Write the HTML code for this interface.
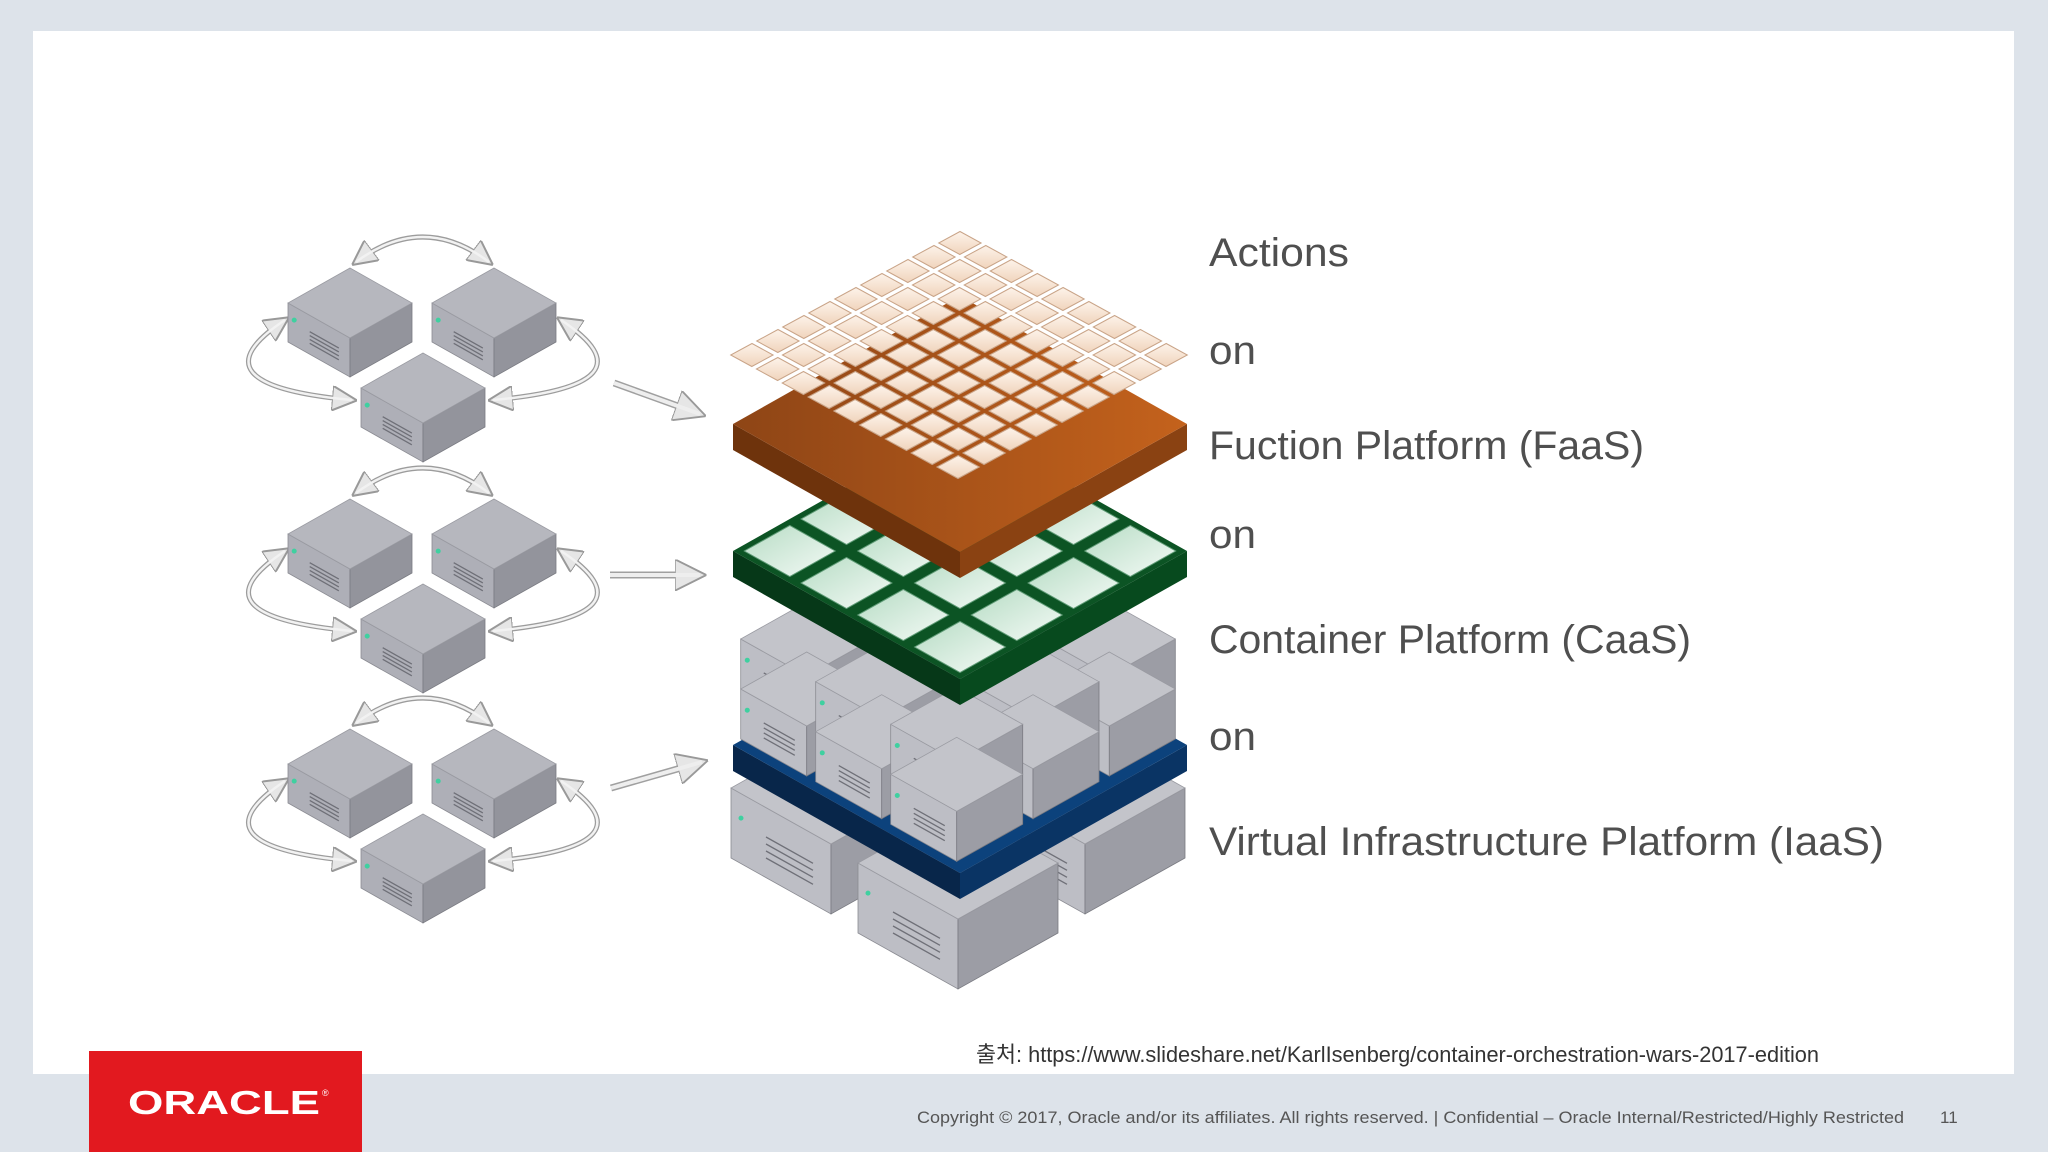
<!DOCTYPE html>
<html><head><meta charset="utf-8">
<style>
html,body{margin:0;padding:0;background:#dde3ea;}
svg{display:block;}
</style></head>
<body>
<svg id="s" width="2048" height="1152" viewBox="0 0 2048 1152" xmlns="http://www.w3.org/2000/svg">
<defs>
<marker id="ah" viewBox="0 0 10 10" refX="8" refY="5" markerWidth="5" markerHeight="5" orient="auto-start-reverse" markerUnits="strokeWidth">
<path d="M0,0 L10,5 L0,10 Z" fill="#e6e6e6" stroke="#999" stroke-width="0.8"/>
</marker>
<marker id="ah2" viewBox="0 0 10 10" refX="8" refY="5" markerWidth="4.5" markerHeight="4.5" orient="auto" markerUnits="strokeWidth">
<path d="M0,0 L10,5 L0,10 Z" fill="#e6e6e6" stroke="#999" stroke-width="0.6"/>
</marker>
<linearGradient id="tileA" x1="0" y1="0" x2="0" y2="1"><stop offset="0" stop-color="#fdf3ea"/><stop offset="1" stop-color="#f0d4bc"/></linearGradient>
<linearGradient id="tileG" x1="0" y1="0" x2="1" y2="1"><stop offset="0" stop-color="#b6dcc4"/><stop offset="1" stop-color="#f4faf6"/></linearGradient>
<linearGradient id="orTop" x1="0" y1="0" x2="1" y2="0"><stop offset="0" stop-color="#8e4516"/><stop offset="1" stop-color="#c4621c"/></linearGradient>
</defs>
<rect x="0" y="0" width="2048" height="1152" fill="#dde3ea"/>
<rect x="33" y="31" width="1981" height="1043" fill="#ffffff"/>
<g id="g"></g>
<g font-family="Liberation Sans, DejaVu Sans, sans-serif" fill="#4f4f4f" font-size="40">
<text x="1209" y="266" textLength="140" lengthAdjust="spacingAndGlyphs">Actions</text>
<text x="1209" y="364" textLength="47" lengthAdjust="spacingAndGlyphs">on</text>
<text x="1209" y="459" textLength="435" lengthAdjust="spacingAndGlyphs">Fuction Platform (FaaS)</text>
<text x="1209" y="548" textLength="47" lengthAdjust="spacingAndGlyphs">on</text>
<text x="1209" y="653" textLength="482" lengthAdjust="spacingAndGlyphs">Container Platform (CaaS)</text>
<text x="1209" y="750" textLength="47" lengthAdjust="spacingAndGlyphs">on</text>
<text x="1209" y="855" textLength="675" lengthAdjust="spacingAndGlyphs">Virtual Infrastructure Platform (IaaS)</text>
</g>
<text x="976" y="1062" font-family="Liberation Sans, Noto Sans CJK KR, sans-serif" font-size="22" fill="#333" textLength="843" lengthAdjust="spacingAndGlyphs">출처: https://www.slideshare.net/KarlIsenberg/container-orchestration-wars-2017-edition</text>
<text x="917" y="1123" font-family="Liberation Sans, sans-serif" font-size="17" fill="#555" textLength="987" lengthAdjust="spacingAndGlyphs">Copyright © 2017, Oracle and/or its affiliates. All rights reserved.  |  Confidential – Oracle Internal/Restricted/Highly Restricted</text>
<text x="1940" y="1123" font-family="Liberation Sans, sans-serif" font-size="17" fill="#555">11</text>
<rect x="89" y="1051" width="273" height="101" fill="#e2191f"/>
<text x="128" y="1114" font-family="Liberation Sans, sans-serif" font-size="33" font-weight="bold" fill="#fff" textLength="192" lengthAdjust="spacingAndGlyphs">ORACLE</text>
<text x="322" y="1096" font-family="Liberation Sans, sans-serif" font-size="9" fill="#fff">®</text>
</svg>
<script>
var out=[];
function P(pts){return pts.map(function(p){return p[0].toFixed(1)+','+p[1].toFixed(1)}).join(' ');}
function poly(pts,fill,extra){out.push('<polygon points="'+P(pts)+'" fill="'+fill+'" '+(extra||'')+'/>');}
function box(cx,cy,a,b,h,top,left,right,lines){
  poly([[cx-a,cy],[cx,cy+b],[cx,cy+b+h],[cx-a,cy+h]],left,'stroke="#8a8b92" stroke-width="0.8"');
  poly([[cx+a,cy],[cx,cy+b],[cx,cy+b+h],[cx+a,cy+h]],right,'stroke="#7a7b82" stroke-width="0.8"');
  poly([[cx,cy-b],[cx+a,cy],[cx,cy+b],[cx-a,cy]],top,'stroke="#9a9ba2" stroke-width="0.8"');
  if(lines){
    var dx=a,dy=b;
    for(var i=0;i<4;i++){
      var y0=h*(0.42+i*0.1);
      var x1=cx-a+dx*0.35,y1=cy+dy*0.35+y0,x2=cx-a+dx*0.82,y2=cy+dy*0.82+y0;
      out.push('<line x1="'+x1+'" y1="'+y1+'" x2="'+x2+'" y2="'+y2+'" stroke="#6f7078" stroke-width="1.3"/>');
    }
    out.push('<circle cx="'+(cx-a+dx*0.1)+'" cy="'+(cy+dy*0.1+h*0.35)+'" r="2.5" fill="#3fd0a0"/>');
  }
}
function slab(top,a,b,h,ct,cl,cr){
  var cx=top[0],cy=top[1]+b;
  poly([[cx-a,cy],[cx,cy+b],[cx,cy+b+h],[cx-a,cy+h]],cl);
  poly([[cx+a,cy],[cx,cy+b],[cx,cy+b+h],[cx+a,cy+h]],cr);
  poly([[cx,cy-b],[cx+a,cy],[cx,cy+b],[cx-a,cy]],ct);
}
function grid(top,right,left,n,fill_,gap,stroke){
  var rx=right[0]-top[0],ry=right[1]-top[1],lx=left[0]-top[0],ly=left[1]-top[1];
  function m(u,v){return [top[0]+u*rx+v*lx,top[1]+u*ry+v*ly];}
  for(var s=0;s<=2*(n-1);s++)for(var i=0;i<n;i++){var j=s-i;if(j<0||j>=n)continue;
    var u0=(i+gap)/n,u1=(i+1-gap)/n,v0=(j+gap)/n,v1=(j+1-gap)/n;
    poly([m(u0,v0),m(u1,v0),m(u1,v1),m(u0,v1)],fill_,stroke);
  }
}
var SG='#b6b7be',SL='#aeafb7',SR='#93949c';
for(var k=0;k<3;k++){
  var o=[0,231,461][k];
  function arc(d){out.push('<path d="'+d+'" fill="none" stroke="#9c9c9c" stroke-width="5" marker-start="url(#ah)" marker-end="url(#ah)"/>');out.push('<path d="'+d+'" fill="none" stroke="#f2f2f2" stroke-width="2.5"/>');}
  arc('M 356 '+(262+o)+' Q 423 '+(212+o)+' 489 '+(262+o));
  arc('M 285 '+(320+o)+' Q 187 '+(385+o)+' 352 '+(400+o));
  arc('M 561 '+(320+o)+' Q 659 '+(385+o)+' 493 '+(400+o));
  box(350,303+o,62,35,39,SG,SL,SR,true);
  box(494,303+o,62,35,39,SG,SL,SR,true);
  box(423,388+o,62,35,39,SG,SL,SR,true);
}
function bigArrow(x1,y1,x2,y2){var d='M '+x1+' '+y1+' L '+x2+' '+y2;
  out.push('<path d="'+d+'" fill="none" stroke="#a0a0a0" stroke-width="7" marker-end="url(#ah2)"/>');
  out.push('<path d="'+d+'" fill="none" stroke="#eeeeee" stroke-width="4"/>');}
bigArrow(614,383,700,414);bigArrow(610,575,700,575);bigArrow(611,788,702,762);
var BG='#c3c4ca',BL='#bdbec5',BR='#9c9da5';
box(831,788,100,56,70,BG,BL,BR,true);
box(1085,788,100,56,70,BG,BL,BR,true);
box(958,863,100,56,70,BG,BL,BR,true);
slab([960,617],227,128,26,'#0c427c','#08264a','#0a3464');
(function(){
  var top=[960,617],rx=225,ry=128,lx=-229,ly=128;
  function m(u,v){return [top[0]+u*rx+v*lx,top[1]+u*ry+v*ly];}
  var cells=[[0,0],[1,0],[0,1],[2,0],[1,1],[0,2],[2,1],[1,2],[2,2]];
  cells.forEach(function(c){
    var ctr=m((c[0]+0.5)/3,(c[1]+0.5)/3);
    var a=66,b=37;
    box(ctr[0],ctr[1]-106,a,b,50,BG,BL,BR,true);
    box(ctr[0],ctr[1]-56,a,b,50,BG,BL,BR,true);
  });
})();
slab([960,423],227,128,26,'#0c5424','#063818','#074a1e');
grid([960,423],[1187,551],[733,551],4,'url(#tileG)',0.1,'stroke="#5f9b76" stroke-width="1"');
slab([960,296],227,128,26,'url(#orTop)','#6e330c','#8a4212');
grid([960,229],[1192,355],[726,355],9,'url(#tileA)',0.09,'stroke="#c9a488" stroke-width="1"');
document.getElementById('g').innerHTML=out.join('');
</script>
</body></html>
